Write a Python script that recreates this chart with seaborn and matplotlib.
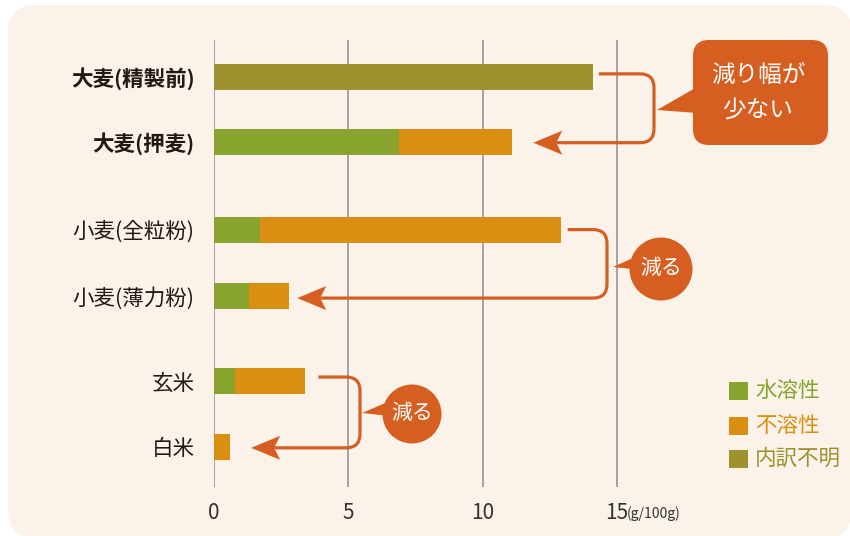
import numpy as np
import pandas as pd
import matplotlib
matplotlib.use("Agg")
import matplotlib.pyplot as plt
import seaborn as sns
from matplotlib.patches import FancyBboxPatch, Circle, Polygon, PathPatch, Rectangle
from matplotlib.path import Path
from matplotlib.transforms import Affine2D

# ---------------- data ----------------
categories = ["大麦(精製前)", "大麦(押麦)", "小麦(全粒粉)", "小麦(薄力粉)", "玄米", "白米"]
soluble = [0.0, 6.9, 1.7, 1.3, 0.8, 0.0]      # 水溶性
insoluble = [0.0, 4.2, 11.2, 1.5, 2.6, 0.6]   # 不溶性
unknown = [14.1, 0.0, 0.0, 0.0, 0.0, 0.0]     # 内訳不明
series_names = ["水溶性", "不溶性", "内訳不明"]
bold_rows = [True, True, False, False, False, False]
xticks = [0, 5, 10, 15]
unit_label = "(g/100g)"
callout_texts = ["減り幅が\n少ない", "減る", "減る"]

# ---------------- layout / style ----------------
row_pos = [0.0, 0.985, 2.32, 3.33, 4.62, 5.62]
GREEN = "#88a32e"
ORANGE = "#db8f12"
OLIVE = "#9d9130"
CALL = "#d65e20"
BG = "#fbf3ea"
GRID = "#9c9c9c"
TXT = "#231815"

sns.set_theme(style="white")
plt.rcParams["font.family"] = ["Noto Sans CJK JP", "DejaVu Sans"]

W, H = 850, 536
fig = plt.figure(figsize=(W / 100, H / 100), dpi=100, facecolor="white")
px = Affine2D().scale(1 / W, -1 / H).translate(0, 1) + fig.transFigure

# background panel
bg = FancyBboxPatch((8, 5), 844, 533, boxstyle="round,pad=0,rounding_size=28",
                    transform=px, facecolor=BG, edgecolor="none", zorder=0)
fig.add_artist(bg)

ax = fig.add_axes([214 / W, 1 - 487 / H, 636 / W, 447 / H])
ax.set_zorder(1)
ax.patch.set_visible(False)

df = pd.DataFrame({"cat": categories, "pos": row_pos, "sol": soluble,
                   "ins": insoluble, "unk": unknown})
df["total"] = df["sol"] + df["ins"]

common = dict(orient="h", native_scale=True, width=0.4, errorbar=None,
              linewidth=0, saturation=1, ax=ax)
sns.barplot(data=df, x="unk", y="pos", color=OLIVE, **common)
sns.barplot(data=df, x="total", y="pos", color=ORANGE, **common)
sns.barplot(data=df, x="sol", y="pos", color=GREEN, **common)

ax.set_xlim(0, 636 / 26.87)
ax.set_ylim(6.23, -0.56)
ax.grid(False)
for x in xticks:
    ax.axvline(x, color=GRID, lw=1.3, zorder=0)
for s in ax.spines.values():
    s.set_visible(False)
ax.set_xlabel("")
ax.set_ylabel("")
ax.set_xticks(xticks, [str(t) for t in xticks])
ax.set_yticks(row_pos, categories)
ax.tick_params(axis="x", length=0, pad=11, labelsize=15, labelcolor="#333333")
ax.tick_params(axis="y", length=0, pad=14, labelsize=15.5, labelcolor=TXT)
for lab, b in zip(ax.get_yticklabels(), bold_rows):
    lab.set_fontweight("bold" if b else "normal")

fig.text(627, 514, unit_label, transform=px, fontsize=10, color="#333333",
         ha="left", va="center")


def d2p(x, y):
    dx, dy = ax.transData.transform((x, y))
    return dx, H - dy


def bracket(p_start, xv, p_end_y, tip_x, r=14, head=(29, 12, 6)):
    x0, y0 = p_start
    y1 = p_end_y
    hl, hw, notch = head
    back = tip_x + hl - notch
    verts = [(x0, y0), (xv - r, y0), (xv, y0), (xv, y0 + r), (xv, y1 - r),
             (xv, y1), (xv - r, y1), (back, y1)]
    codes = [Path.MOVETO, Path.LINETO, Path.CURVE3, Path.CURVE3, Path.LINETO,
             Path.CURVE3, Path.CURVE3, Path.LINETO]
    fig.add_artist(PathPatch(Path(verts, codes), transform=px, facecolor="none",
                             edgecolor=CALL, lw=2.3, zorder=5, capstyle="butt"))
    fig.add_artist(Polygon([(tip_x, y1), (tip_x + hl, y1 - hw), (back, y1),
                            (tip_x + hl, y1 + hw)], closed=True, transform=px,
                           facecolor=CALL, edgecolor="none", zorder=6))


totals = [u + s + i for u, s, i in zip(unknown, soluble, insoluble)]

# callout 1 (barley)
sx, sy = d2p(totals[0], row_pos[0])
ex, ey = d2p(totals[1], row_pos[1])
bracket((sx + 6, sy - 3), 654, ey + 1, ex + 21)
fig.add_artist(FancyBboxPatch((693, 40), 135, 105, boxstyle="round,pad=0,rounding_size=16",
                              transform=px, facecolor=CALL, edgecolor="none", zorder=6))
fig.add_artist(Polygon([(657, 110), (697, 87), (697, 113)], closed=True, transform=px,
                       facecolor=CALL, edgecolor="none", zorder=6))
l1, l2 = callout_texts[0].split("\n")
fig.text(758, 75, l1, transform=px, color="white", fontsize=17, ha="center", va="center", zorder=7)
fig.text(758, 110, l2, transform=px, color="white", fontsize=17, ha="center", va="center", zorder=7)

# callout 2 (wheat)
sx, sy = d2p(totals[2], row_pos[2])
ex, ey = d2p(totals[3], row_pos[3])
bracket((sx + 7, sy), 607, ey + 2, ex + 8)
fig.add_artist(Circle((661, 269), 31.5, transform=px, facecolor=CALL, edgecolor="none", zorder=6))
fig.add_artist(Polygon([(613, 267), (642, 254), (642, 270)], closed=True, transform=px,
                       facecolor=CALL, edgecolor="none", zorder=6))
fig.text(661, 268, callout_texts[1], transform=px, color="white", fontsize=15,
         ha="center", va="center", zorder=7)

# callout 3 (rice)
sx, sy = d2p(totals[4], row_pos[4])
ex, ey = d2p(totals[5], row_pos[5])
bracket((sx + 13, sy - 4), 360, ey + 1, ex + 21)
fig.add_artist(Circle((412, 414), 29.5, transform=px, facecolor=CALL, edgecolor="none", zorder=6))
fig.add_artist(Polygon([(362, 413), (390, 401), (390, 416)], closed=True, transform=px,
                       facecolor=CALL, edgecolor="none", zorder=6))
fig.text(412, 413, callout_texts[2], transform=px, color="white", fontsize=15,
         ha="center", va="center", zorder=7)

# legend
for name, col, yc in zip(series_names, [GREEN, ORANGE, OLIVE], [391, 426, 459]):
    fig.add_artist(Rectangle((729, yc - 9), 19, 18, transform=px, facecolor=col,
                             edgecolor="none", zorder=6))
    fig.text(755, yc, name, transform=px, color=col, fontsize=15.5, ha="left",
             va="center", zorder=7)

fig.savefig("out.png", dpi=100, facecolor="white")
